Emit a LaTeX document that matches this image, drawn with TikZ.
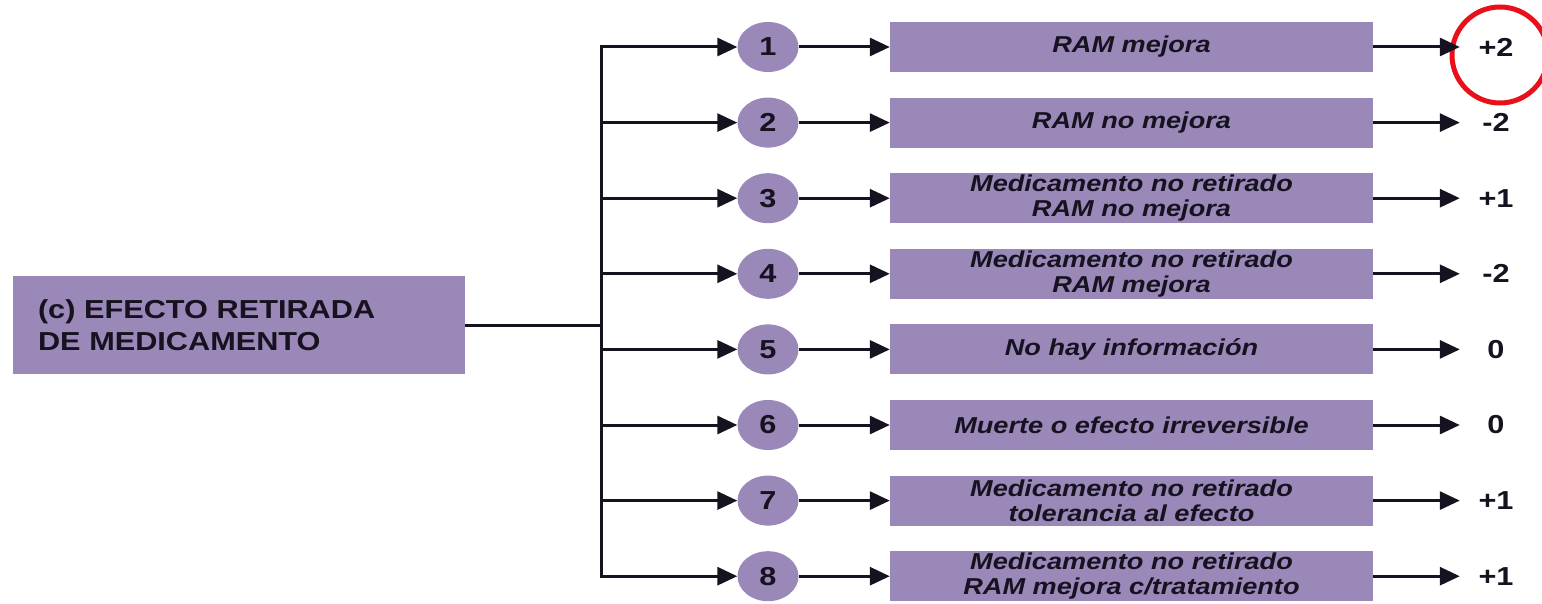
\documentclass[tikz,border=0pt]{standalone}
\usepackage{fontspec}
\setmainfont{Liberation Sans}[FakeStretch=1.18]
\usetikzlibrary{arrows.meta,positioning,shapes.geometric}
\usepackage{xcolor}
\definecolor{lila}{HTML}{9A88B8}
\definecolor{ink}{HTML}{16121F}
\definecolor{ringred}{HTML}{E8101A}
\tikzset{
  box/.style={fill=lila, text=ink, align=center, inner sep=0pt},
  mainbox/.style={box, align=left, font=\bfseries\fontsize{26}{32}\selectfont, text width=402pt, minimum height=98pt, inner xsep=25pt},
  effectbox/.style={box, font=\bfseries\itshape\fontsize{23}{25}\selectfont, minimum width=483pt, minimum height=50pt},
  numbox/.style={box, ellipse, font=\bfseries\fontsize{26}{28}\selectfont, minimum width=61pt, minimum height=50pt},
  score/.style={text=ink, font=\bfseries\fontsize{26}{28}\selectfont, minimum width=72pt, inner sep=0pt},
  link/.style={line width=3pt, draw=ink},
  arrow/.style={link, -{Triangle[length=20pt,width=18pt]}}
}

\begin{document}
\begin{tikzpicture}[x=1pt, y=-1pt]
  \useasboundingbox (0,0) rectangle (1542,604);
  \node[mainbox] (main) at (239,325) {(c) EFECTO RETIRADA\\DE MEDICAMENTO};
  \coordinate (trunk) at (601,325);

  % opciones numeradas
  \node[numbox] (n1) at (768,47) {1};
  \node[numbox] (n2) at (768,122.6) {2};
  \node[numbox] (n3) at (768,198.2) {3};
  \node[numbox] (n4) at (768,273.8) {4};
  \node[numbox] (n5) at (768,349.4) {5};
  \node[numbox] (n6) at (768,425) {6};
  \node[numbox] (n7) at (768,500.6) {7};
  \node[numbox] (n8) at (768,576.2) {8};

  % descripcion del efecto
  \node[effectbox] (r1) at (1131.5,47) {RAM mejora};
  \node[effectbox] (r2) at (1131.5,122.6) {RAM no mejora};
  \node[effectbox] (r3) at (1131.5,198.2) {Medicamento no retirado\\RAM no mejora};
  \node[effectbox] (r4) at (1131.5,273.8) {Medicamento no retirado\\RAM mejora};
  \node[effectbox] (r5) at (1131.5,349.4) {No hay información};
  \node[effectbox] (r6) at (1131.5,425) {Muerte o efecto irreversible};
  \node[effectbox] (r7) at (1131.5,500.6) {Medicamento no retirado\\tolerancia al efecto};
  \node[effectbox] (r8) at (1131.5,576.2) {Medicamento no retirado\\RAM mejora c/tratamiento};

  % puntuacion
  \node[score] (s1) at (1496,47) {+2};
  \node[score] (s2) at (1496,122.6) {-2};
  \node[score] (s3) at (1496,198.2) {+1};
  \node[score] (s4) at (1496,273.8) {-2};
  \node[score] (s5) at (1496,349.4) {0};
  \node[score] (s6) at (1496,425) {0};
  \node[score] (s7) at (1496,500.6) {+1};
  \node[score] (s8) at (1496,576.2) {+1};

  \draw[draw=ringred, line width=5pt] (s1) ++(4,8) circle (48);

  \draw[link] (main) -- (trunk);
  \draw[arrow] (trunk) |- (n1);
  \draw[arrow] (trunk) |- (n2);
  \draw[arrow] (trunk) |- (n3);
  \draw[arrow] (trunk) |- (n4);
  \draw[arrow] (trunk) |- (n5);
  \draw[arrow] (trunk) |- (n6);
  \draw[arrow] (trunk) |- (n7);
  \draw[arrow] (trunk) |- (n8);

  \draw[arrow] (n1) -- (r1);
  \draw[arrow] (n2) -- (r2);
  \draw[arrow] (n3) -- (r3);
  \draw[arrow] (n4) -- (r4);
  \draw[arrow] (n5) -- (r5);
  \draw[arrow] (n6) -- (r6);
  \draw[arrow] (n7) -- (r7);
  \draw[arrow] (n8) -- (r8);

  \draw[arrow] (r1) -- (s1);
  \draw[arrow] (r2) -- (s2);
  \draw[arrow] (r3) -- (s3);
  \draw[arrow] (r4) -- (s4);
  \draw[arrow] (r5) -- (s5);
  \draw[arrow] (r6) -- (s6);
  \draw[arrow] (r7) -- (s7);
  \draw[arrow] (r8) -- (s8);
\end{tikzpicture}
\end{document}
